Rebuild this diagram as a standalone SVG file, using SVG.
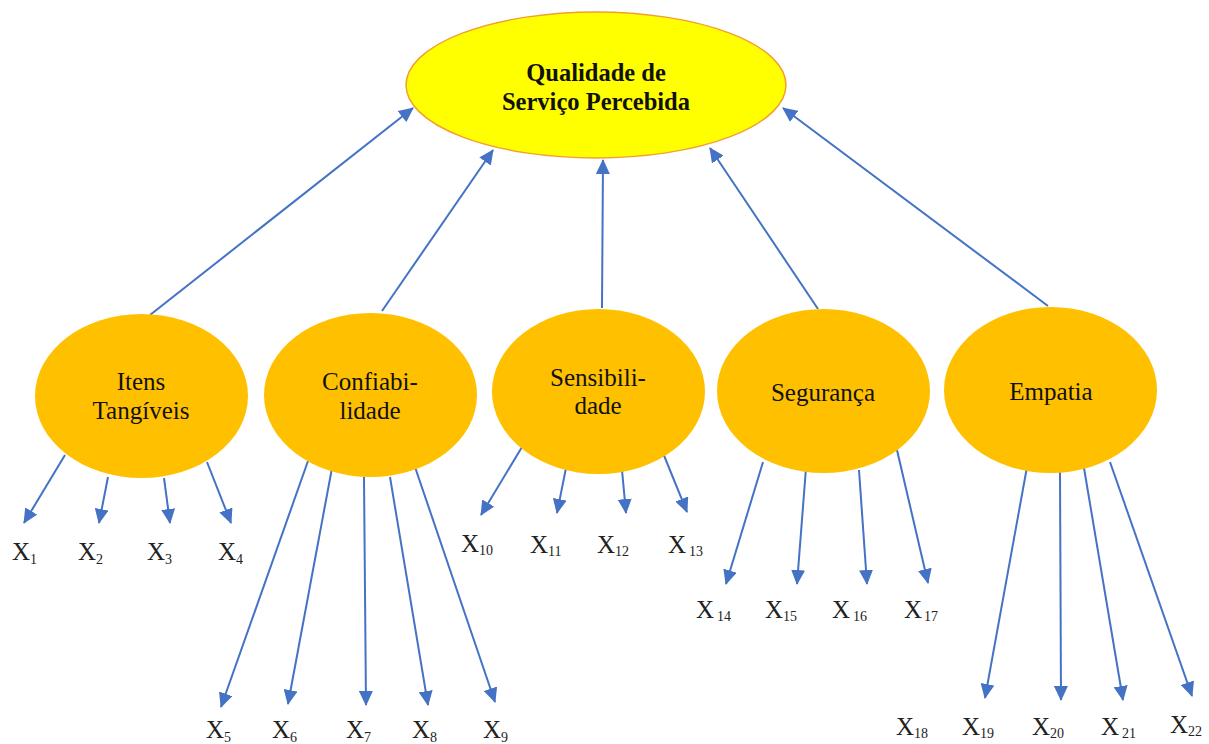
<svg xmlns="http://www.w3.org/2000/svg" width="1209" height="744" viewBox="0 0 1209 744">
  <defs>
    <marker id="arrow" viewBox="0 0 15 14" refX="14" refY="7" markerWidth="15" markerHeight="14" markerUnits="userSpaceOnUse" orient="auto">
      <path d="M0,0 L15,7 L0,14 z" fill="#4472C4"/>
    </marker>
    <style>
      .link { stroke: #4472C4; stroke-width: 2; fill: none; marker-end: url(#arrow); }
      .dim { fill: #FFC000; }
      .top { fill: #FFFF00; stroke: #F0A030; stroke-width: 1.5; }
      .lbl { font-family: "Liberation Serif", "Times New Roman", serif; font-size: 25px; fill: #111; text-anchor: middle; }
      .ttl { font-family: "Liberation Serif", "Times New Roman", serif; font-size: 24.5px; font-weight: bold; fill: #111; text-anchor: middle; }
      .var { font-family: "Liberation Serif", "Times New Roman", serif; font-size: 25px; fill: #222; }
      .sub { font-size: 14px; }
    </style>
  </defs>

  <!-- connectors -->
  <g id="connectors">
    <!-- dimensions to overall quality -->
    <line class="link" x1="150" y1="315" x2="413" y2="108"/>
    <line class="link" x1="382" y1="311" x2="493" y2="150"/>
    <line class="link" x1="602" y1="308" x2="603" y2="160"/>
    <line class="link" x1="818" y1="309" x2="710" y2="148"/>
    <line class="link" x1="1048" y1="306" x2="783" y2="108"/>
    <!-- Itens Tangíveis -->
    <line class="link" x1="65" y1="455" x2="24" y2="523"/>
    <line class="link" x1="108" y1="477" x2="99" y2="523"/>
    <line class="link" x1="164" y1="478" x2="170" y2="523"/>
    <line class="link" x1="207" y1="462" x2="231" y2="523"/>
    <!-- Confiabilidade -->
    <line class="link" x1="308" y1="461" x2="221" y2="707"/>
    <line class="link" x1="332" y1="468" x2="288" y2="704"/>
    <line class="link" x1="364" y1="477" x2="366" y2="705"/>
    <line class="link" x1="390" y1="477" x2="428" y2="705"/>
    <line class="link" x1="415" y1="467" x2="495" y2="702"/>
    <!-- Sensibilidade -->
    <line class="link" x1="522" y1="447" x2="481" y2="515"/>
    <line class="link" x1="566" y1="468" x2="557" y2="513"/>
    <line class="link" x1="622" y1="470" x2="626" y2="513"/>
    <line class="link" x1="663" y1="453" x2="687" y2="512"/>
    <!-- Segurança -->
    <line class="link" x1="763" y1="462" x2="726" y2="584"/>
    <line class="link" x1="806" y1="468" x2="797" y2="584"/>
    <line class="link" x1="859" y1="470" x2="867" y2="584"/>
    <line class="link" x1="897" y1="450" x2="928" y2="583"/>
    <!-- Empatia -->
    <line class="link" x1="1027" y1="467" x2="985" y2="698"/>
    <line class="link" x1="1060" y1="472" x2="1061" y2="700"/>
    <line class="link" x1="1084" y1="468" x2="1123" y2="700"/>
    <line class="link" x1="1110" y1="462" x2="1192" y2="696"/>
  </g>

  <!-- overall construct -->
  <g id="qualidade">
    <ellipse class="top" cx="596" cy="85" rx="190" ry="73"/>
    <text class="ttl" x="596" y="81">Qualidade de</text>
    <text class="ttl" x="596" y="110">Serviço Percebida</text>
  </g>

  <!-- dimensions -->
  <g id="itens-tangiveis">
    <ellipse class="dim" cx="141.5" cy="396" rx="106.5" ry="82"/>
    <text class="lbl" x="141" y="390">Itens</text>
    <text class="lbl" x="141" y="419">Tangíveis</text>
  </g>
  <g id="confiabilidade">
    <ellipse class="dim" cx="370.5" cy="395" rx="106.5" ry="82"/>
    <text class="lbl" x="370" y="390">Confiabi-</text>
    <text class="lbl" x="370" y="419">lidade</text>
  </g>
  <g id="sensibilidade">
    <ellipse class="dim" cx="598.5" cy="391.5" rx="106.5" ry="82.5"/>
    <text class="lbl" x="598" y="386">Sensibili-</text>
    <text class="lbl" x="598" y="414">dade</text>
  </g>
  <g id="seguranca">
    <ellipse class="dim" cx="823.5" cy="391" rx="106.5" ry="82"/>
    <text class="lbl" x="823" y="401">Segurança</text>
  </g>
  <g id="empatia">
    <ellipse class="dim" cx="1050.5" cy="390" rx="106.5" ry="83"/>
    <text class="lbl" x="1051" y="400">Empatia</text>
  </g>

  <!-- observed variables -->
  <g id="variaveis" class="var">
    <text x="12" y="560">X<tspan class="sub" dy="4">1</tspan></text>
    <text x="78" y="560">X<tspan class="sub" dy="4">2</tspan></text>
    <text x="147" y="560">X<tspan class="sub" dy="4">3</tspan></text>
    <text x="218" y="560">X<tspan class="sub" dy="4">4</tspan></text>

    <text x="206" y="738">X<tspan class="sub" dy="4">5</tspan></text>
    <text x="272" y="738">X<tspan class="sub" dy="4">6</tspan></text>
    <text x="346" y="738">X<tspan class="sub" dy="4">7</tspan></text>
    <text x="412" y="738">X<tspan class="sub" dy="4">8</tspan></text>
    <text x="483" y="738">X<tspan class="sub" dy="4">9</tspan></text>

    <text x="461" y="552">X<tspan class="sub" dy="3">10</tspan></text>
    <text x="530" y="553">X<tspan class="sub" dy="3">11</tspan></text>
    <text x="597" y="553">X<tspan class="sub" dy="3">12</tspan></text>
    <text x="668" y="553">X<tspan class="sub" dy="3" dx="3">13</tspan></text>

    <text x="696" y="618">X<tspan class="sub" dy="3" dx="3">14</tspan></text>
    <text x="765" y="618">X<tspan class="sub" dy="3">15</tspan></text>
    <text x="832" y="618">X<tspan class="sub" dy="3" dx="3">16</tspan></text>
    <text x="904" y="618">X<tspan class="sub" dy="3" dx="2">17</tspan></text>

    <text x="896" y="735">X<tspan class="sub" dy="3">18</tspan></text>
    <text x="962" y="735">X<tspan class="sub" dy="3">19</tspan></text>
    <text x="1032" y="735">X<tspan class="sub" dy="3">20</tspan></text>
    <text x="1101" y="735">X<tspan class="sub" dy="3" dx="3">21</tspan></text>
    <text x="1170" y="733">X<tspan class="sub" dy="3">22</tspan></text>
  </g>
</svg>
